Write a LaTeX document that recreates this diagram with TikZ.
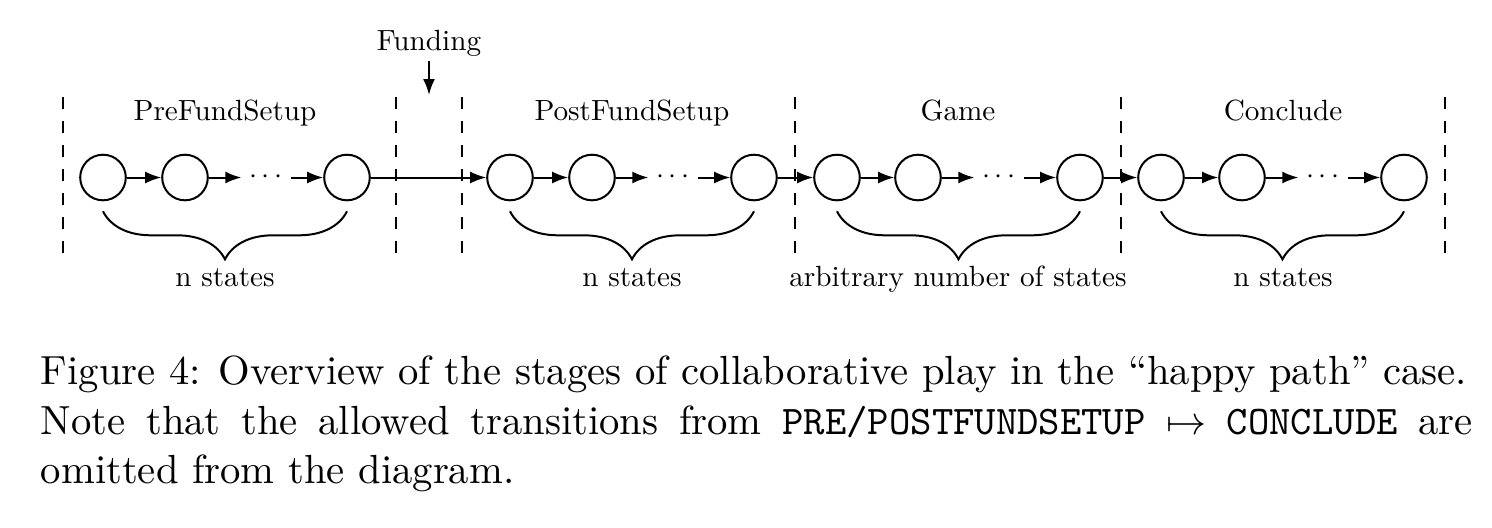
\documentclass[tikz,border=0pt]{standalone}
\usetikzlibrary{arrows.meta,decorations.pathreplacing}
\begin{document}
\begin{tikzpicture}[x=0.25pt,y=-0.25pt,
  st/.style={circle, draw, line width=0.5pt, minimum size=11.4pt, inner sep=0pt},
  dotsnode/.style={scale=0.72, inner sep=0pt, minimum width=16.7pt, minimum height=5pt},
  arr/.style={-{Latex[length=4pt,width=3pt]}, line width=0.5pt},
  sepline/.style={dashed, line width=0.5pt},
  lab/.style={scale=0.73, inner sep=0pt, anchor=base},
  brc/.style={decorate, decoration={brace, amplitude=12pt, mirror}, line width=0.5pt}]
\useasboundingbox (0,0) rectangle (1492,527);

% separators
\foreach \x in {63,396,462,795,1121,1445}
  \draw[sepline] (\x,97) -- (\x,258);

% states
\foreach \n/\a/\b/\c/\d in {p/103/185/347/266, q/510/592/754/673, g/837/918/1080/999, c/1161/1242/1404/1323}{
  \node[st] (\n1) at (\a,177.5) {};
  \node[st] (\n2) at (\b,177.5) {};
  \node[st] (\n3) at (\c,177.5) {};
  \node[dotsnode] (\n d) at (\d,177.5) {$\cdots$};
  \draw[arr] (\n1) -- (\n2);
  \draw[arr] (\n2) -- (\n d);
  \draw[arr] (\n d) -- (\n3);
  \draw[brc] ([yshift=-2.5pt]\n1.south) -- ([yshift=-2.5pt]\n3.south);
}
\draw[arr] (p3) -- (q1);
\draw[arr] (q3) -- (g1);
\draw[arr] (g3) -- (c1);

% labels
\node[lab] (lpre) at (225,120) {PreFundSetup};
\node[lab] (lpost) at (632,120) {PostFundSetup};
\node[lab] (lgame) at (958,120) {Game};
\node[lab] (lconc) at (1283,120) {Conclude};
\node[lab] (npre) at (225,286.7) {n states};
\node[lab] (npost) at (632,286.7) {n states};
\node[lab] (ngame) at (958,286.7) {arbitrary number of states};
\node[lab] (nconc) at (1283,286.7) {n states};

% funding
\node[lab] (fund) at (429,50.7) {Funding};
\coordinate (fundend) at (429,95);
\draw[arr] ([yshift=-1pt]fund.south) -- (fundend);

% caption
\node[anchor=north west, inner sep=0pt, text width=358pt, align=justify,
      font=\fontsize{10.17}{12.4}\selectfont] (cap) at (40,355)
 {Figure 4: Overview of the stages of collaborative play in the ``happy path'' case.\\
  Note that the allowed transitions from \texttt{PRE/POSTFUNDSETUP} $\mapsto$ \texttt{CONCLUDE} are\linebreak
  omitted from the diagram.};
\end{tikzpicture}
\end{document}
